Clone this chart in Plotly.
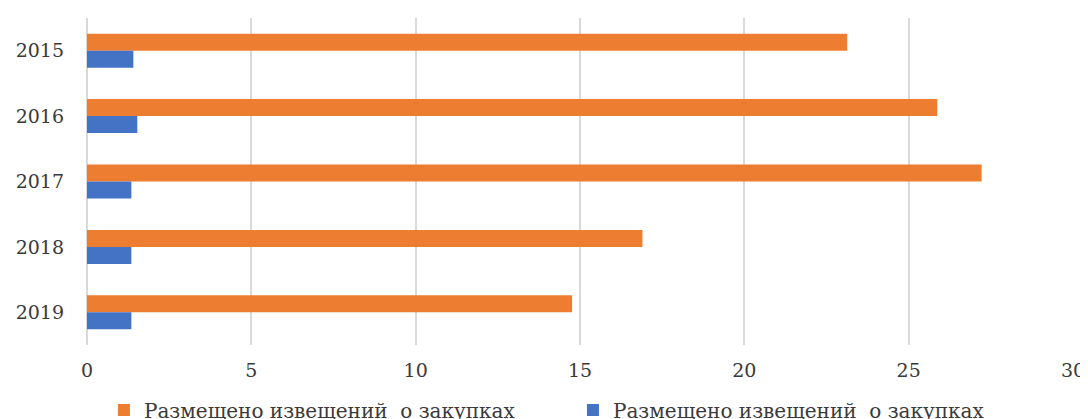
import plotly.graph_objects as go

years = ["2015", "2016", "2017", "2018", "2019"]
orange_vals = [23.13, 25.87, 27.22, 16.9, 14.76]
blue_vals = [1.41, 1.53, 1.35, 1.35, 1.35]
series_names = ["Размещено извещений  о закупках", "Размещено извещений  о закупках"]
x_ticks = [0, 5, 10, 15, 20, 25, 30]

fig = go.Figure()
fig.add_trace(go.Bar(y=years, x=orange_vals, orientation="h", name=series_names[0],
                     marker=dict(color="#ED7D31", line=dict(width=0))))
fig.add_trace(go.Bar(y=years, x=blue_vals, orientation="h", name=series_names[1],
                     marker=dict(color="#4472C4", line=dict(width=0))))

font = "'DejaVu Serif', serif"
# page body has an 8px margin, so the figure is 8px smaller than the window
fig.update_layout(
    width=1080, height=411,
    margin=dict(l=79, r=15, t=10, b=74, autoexpand=False),
    paper_bgcolor="white", plot_bgcolor="white",
    barmode="group", bargap=0.48, bargroupgap=0,
    font=dict(family=font, size=19, color="#3A3A3A"),
    showlegend=True,
    legend=dict(orientation="h", x=0.0172, y=-0.1988, xanchor="left", yanchor="middle",
                font=dict(family=font, size=20, color="#3A3A3A"),
                itemwidth=30, traceorder="normal", entrywidth=424, entrywidthmode="pixels"),
)
fig.update_xaxes(range=[0, 30], tickvals=x_ticks, showgrid=True, gridcolor="#D9D9D9",
                 gridwidth=1.5, zeroline=True, zerolinecolor="#D9D9D9", zerolinewidth=1.5,
                 showline=False, ticks="", ticklabelstandoff=12, automargin=False, fixedrange=True)
fig.update_yaxes(categoryorder="array", categoryarray=years, autorange="reversed",
                 showgrid=False, zeroline=False, showline=False, ticks="",
                 ticklabelstandoff=22, automargin=False, fixedrange=True)

fig.write_html("out.html")
